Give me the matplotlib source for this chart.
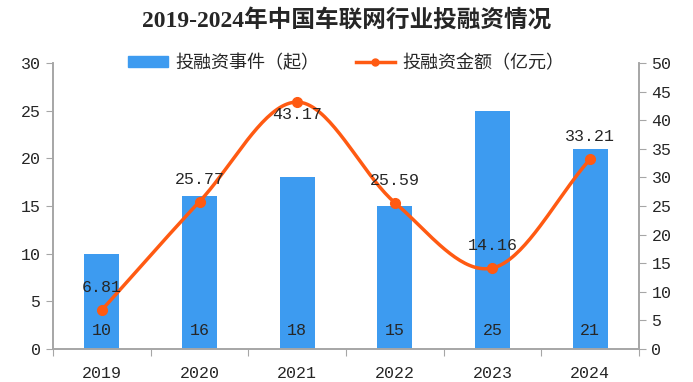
import matplotlib
matplotlib.use("Agg")
import matplotlib.pyplot as plt
import numpy as np
from matplotlib.lines import Line2D
from matplotlib.patches import Patch

plt.rcParams['font.family'] = ['Noto Sans CJK SC', 'DejaVu Sans']

years = ["2019", "2020", "2021", "2022", "2023", "2024"]
events = [10, 16, 18, 15, 25, 21]
amounts = [6.81, 25.77, 43.17, 25.59, 14.16, 33.21]
left_ticks = [0, 5, 10, 15, 20, 25, 30]
right_ticks = [0, 5, 10, 15, 20, 25, 30, 35, 40, 45, 50]

title = "2019-2024年中国车联网行业投融资情况"
bar_name = "投融资事件（起）"
line_name = "投融资金额（亿元）"

BLUE = "#3D9BF0"
ORANGE = "#FF5A12"
SPINE = "#A6A6A6"
TXT = "#262626"
num_font = ['Liberation Mono', 'DejaVu Sans Mono']

fig = plt.figure(figsize=(6.93, 3.82), dpi=100)
ax = fig.add_axes([53/693, 1-349/382, (639-53)/693, (349-63)/382])
ax2 = ax.twinx()

x = np.arange(len(years))
ax.bar(x, events, width=0.36, color=BLUE, zorder=2)
ax.set_xlim(-0.5, len(years)-0.5)
ax.set_ylim(0, 30)
ax2.set_ylim(0, 50)

for xi, v in zip(x, events):
    ax.annotate(str(v), (xi, 0), xytext=(0, 13), textcoords='offset points',
                ha='center', va='center', fontsize=12, family=num_font, color=TXT, zorder=5)

# Smooth curve through points (Catmull-Rom drawing of the line)
def catmull(xs, ys, n=40):
    px = np.concatenate([[2*xs[0]-xs[1]], xs, [2*xs[-1]-xs[-2]]])
    py = np.concatenate([[2*ys[0]-ys[1]], ys, [2*ys[-1]-ys[-2]]])
    ox, oy = [], []
    t = np.linspace(0, 1, n)
    for i in range(1, len(px)-2):
        p0, p1, p2, p3 = [np.array([px[j], py[j]]) for j in (i-1, i, i+1, i+2)]
        for tt in t:
            pt = 0.5*((2*p1) + (-p0+p2)*tt + (2*p0-5*p1+4*p2-p3)*tt**2 + (-p0+3*p1-3*p2+p3)*tt**3)
            ox.append(pt[0]); oy.append(pt[1])
    return np.array(ox), np.array(oy)

sx, sy = catmull(x.astype(float), np.array(amounts, dtype=float))
ax2.plot(sx, sy, color=ORANGE, lw=2.5, zorder=3, solid_capstyle='round')
ax2.plot(x, amounts, 'o', color=ORANGE, ms=7, zorder=4)

for i, (xi, v) in enumerate(zip(x, amounts)):
    off = -9 if i == 2 else 16
    ax2.annotate(f"{v:.2f}", (xi, v), xytext=(0, off), textcoords='offset points',
                 ha='center', va='center', fontsize=12, family=num_font, color=TXT, zorder=5)

# axes styling
for a in (ax, ax2):
    a.spines['top'].set_visible(False)
    for s in ('left', 'right', 'bottom'):
        a.spines[s].set_color(SPINE)
        a.spines[s].set_linewidth(1.2)

ax.set_yticks(left_ticks)
ax.set_yticklabels([str(t) for t in left_ticks], family=num_font, fontsize=12, color=TXT)
ax2.set_yticks(right_ticks)
ax2.set_yticklabels([str(t) for t in right_ticks], family=num_font, fontsize=12, color=TXT)
ax.tick_params(axis='y', direction='out', length=5, color=SPINE, pad=4)
ax2.tick_params(axis='y', direction='out', length=5, color=SPINE, pad=4)

ax.set_xticks(np.arange(-0.5, len(years), 1.0))
ax.set_xticklabels([])
ax.set_xticks(x, minor=True)
ax.set_xticklabels(years, minor=True, family=num_font, fontsize=12, color=TXT)
ax.tick_params(axis='x', which='major', direction='out', length=5, color=SPINE)
ax.tick_params(axis='x', which='minor', length=0, pad=12)

fig.text(0.5, 1-20/382, title, ha='center', va='center', fontsize=17, fontweight='bold',
         family=['Liberation Serif', 'Noto Sans CJK SC'], color=TXT)

handles = [Patch(facecolor=BLUE, edgecolor=BLUE),
           Line2D([0], [0], color=ORANGE, lw=2.5, marker='o', ms=5)]
fig.legend(handles, [bar_name, line_name], loc='center', bbox_to_anchor=(0.5, 1-63/382),
           ncol=2, frameon=False, fontsize=13, handlelength=2.2, handleheight=0.6,
           columnspacing=2.0, handletextpad=0.4, labelcolor=TXT)

fig.savefig("out.png", dpi=100)
